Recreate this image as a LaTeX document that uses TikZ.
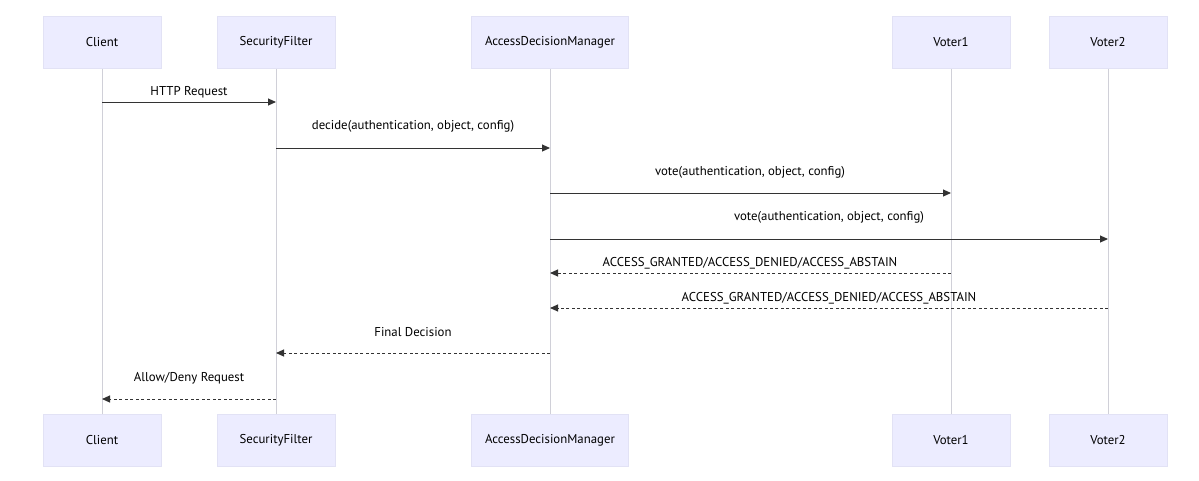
\documentclass[tikz,border=0pt]{standalone}
\usepackage{fontspec}
\setmainfont{PT Sans}
\usetikzlibrary{arrows.meta}
\definecolor{actfill}{HTML}{ECECFF}
\definecolor{actdraw}{HTML}{E2E2F5}
\definecolor{lifec}{HTML}{D0D0D8}
\definecolor{msgc}{HTML}{333333}
\tikzset{
  actor/.style={draw=actdraw, fill=actfill, minimum width=118pt, minimum height=52pt, inner sep=0pt, font=\fontsize{12.8}{15}\selectfont, text=black},
  life/.style={draw=lifec, line width=1pt},
  msg/.style={draw=msgc, line width=1pt, -{Triangle[length=8pt,width=7pt]}},
  ret/.style={msg, dash pattern=on 3pt off 2.5pt},
  lbl/.style={font=\fontsize{12.8}{15}\selectfont, text=black, inner sep=0pt}
}
\begin{document}
\begin{tikzpicture}[x=1pt,y=-1pt]
\useasboundingbox (0,0) rectangle (1199,480);
\fill[white] (0,0) rectangle (1199,480);
% lifelines
\foreach \x in {102,276,550,951,1108} {\draw[life] (\x,68) -- (\x,414);}
% top actors
\node[actor] (c) at (102,42) {Client};
\node[actor] (s) at (276,42) {SecurityFilter};
\node[actor, minimum width=157pt] (a) at (550,42) {AccessDecisionManager};
\node[actor] (v1) at (951,42) {Voter1};
\node[actor] (v2) at (1108,42) {Voter2};
% bottom actors
\node[actor] (cb) at (102,440) {Client};
\node[actor] (sb) at (276,440) {SecurityFilter};
\node[actor, minimum width=157pt] (ab) at (550,440) {AccessDecisionManager};
\node[actor] (v1b) at (951,440) {Voter1};
\node[actor] (v2b) at (1108,440) {Voter2};
% message anchor coordinates
\coordinate (m1s) at (102,102); \coordinate (m1e) at (276,102);
\coordinate (m2s) at (276,148); \coordinate (m2e) at (550,148);
\coordinate (m3s) at (550,193); \coordinate (m3e) at (951,193);
\coordinate (m4s) at (550,239); \coordinate (m4e) at (1108,239);
\coordinate (m5s) at (951,273); \coordinate (m5e) at (550,273);
\coordinate (m6s) at (1108,308); \coordinate (m6e) at (550,308);
\coordinate (m7s) at (550,353); \coordinate (m7e) at (276,353);
\coordinate (m8s) at (276,399); \coordinate (m8e) at (102,399);
\draw[msg] (m1s) -- (m1e);
\draw[msg] (m2s) -- (m2e);
\draw[msg] (m3s) -- (m3e);
\draw[msg] (m4s) -- (m4e);
\draw[ret] (m5s) -- (m5e);
\draw[ret] (m6s) -- (m6e);
\draw[ret] (m7s) -- (m7e);
\draw[ret] (m8s) -- (m8e);
% labels
\node[lbl] (l1) at (189,92) {HTTP Request};
\node[lbl] (l2) at (413,126) {decide(authentication, object, config)};
\node[lbl] (l3) at (750,172) {vote(authentication, object, config)};
\node[lbl] (l4) at (829,217) {vote(authentication, object, config)};
\node[lbl] (l5) at (750,263) {ACCESS\_GRANTED/ACCESS\_DENIED/ACCESS\_ABSTAIN};
\node[lbl] (l6) at (829,298) {ACCESS\_GRANTED/ACCESS\_DENIED/ACCESS\_ABSTAIN};
\node[lbl] (l7) at (413,332) {Final Decision};
\node[lbl] (l8) at (189,378) {Allow/Deny Request};
\end{tikzpicture}
\end{document}
